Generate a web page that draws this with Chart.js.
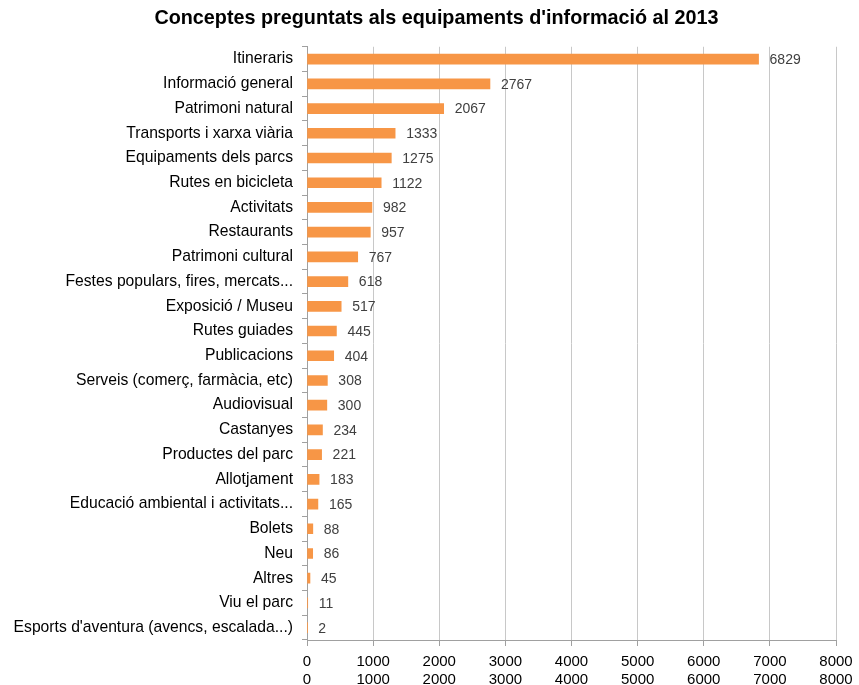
<!DOCTYPE html>
<html>
<head>
<meta charset="utf-8">
<script src="https://cdn.jsdelivr.net/npm/chart.js@4.4.1/dist/chart.umd.min.js"></script>
<style>
    html, body { margin: 0; padding: 0; background: #fff; }
    #wrap { width: 859px; height: 685px; }
</style>
</head>
<body>
<div id="wrap"><canvas id="chart"></canvas></div>
<script>
const titleText = 'Conceptes preguntats als equipaments d\'informació al 2013';

const categories = [
    'Itineraris',
    'Informació general',
    'Patrimoni natural',
    'Transports i xarxa viària',
    'Equipaments dels parcs',
    'Rutes en bicicleta',
    'Activitats',
    'Restaurants',
    'Patrimoni cultural',
    'Festes populars, fires, mercats...',
    'Exposició / Museu',
    'Rutes guiades',
    'Publicacions',
    'Serveis (comerç, farmàcia, etc)',
    'Audiovisual',
    'Castanyes',
    'Productes del parc',
    'Allotjament',
    'Educació ambiental i activitats...',
    'Bolets',
    'Neu',
    'Altres',
    'Viu el parc',
    'Esports d\'aventura (avencs, escalada...)'
];

const consultes = [6829, 2767, 2067, 1333, 1275, 1122, 982, 957, 767, 618, 517, 445,
    404, 308, 300, 234, 221, 183, 165, 88, 86, 45, 11, 2];

const xTicks = [0, 1000, 2000, 3000, 4000, 5000, 6000, 7000, 8000];

const fontFamily = '"Liberation Sans", Arial, sans-serif';

// numbers to the right of each bar
const valueLabels = {
    id: 'valueLabels',
    afterDatasetsDraw(chart) {
        const ctx = chart.ctx;
        const meta = chart.getDatasetMeta(0);
        ctx.save();
        ctx.font = '14px ' + fontFamily;
        ctx.fillStyle = '#404040';
        ctx.textAlign = 'left';
        ctx.textBaseline = 'middle';
        meta.data.forEach((bar, i) => {
            ctx.fillText(String(consultes[i]), bar.x + 11, bar.y + 1);
        });
        ctx.restore();
    }
};

// the title sits a bit right of the canvas centre in the original
const titleShift = {
    id: 'titleShift',
    afterLayout(chart) {
        if (chart.titleBlock) {
            chart.titleBlock.left += 37;
        }
    }
};

const ctx = document.getElementById('chart').getContext('2d');
new Chart(ctx, {
    type: 'bar',
    data: {
        labels: categories,
        datasets: [{
            data: consultes,
            backgroundColor: '#F79646',
            barThickness: 10
        }]
    },
    options: {
        indexAxis: 'y',
        responsive: true,
        maintainAspectRatio: false,
        animation: false,
        layout: { padding: { top: 4, right: 23, left: 0, bottom: 0 } },
        plugins: {
            legend: { display: false },
            tooltip: { enabled: false },
            title: {
                display: true,
                text: titleText,
                color: '#000',
                font: { family: fontFamily, size: 19.8, weight: 'bold' },
                padding: { top: 3, bottom: 16 }
            }
        },
        scales: {
            x: {
                min: 0,
                max: 8000,
                afterFit: (scale) => { scale.height = 45; },
                afterBuildTicks: (scale) => {
                    scale.ticks = xTicks.map(v => ({ value: v }));
                },
                ticks: {
                    color: '#000',
                    font: { family: fontFamily, size: 15, lineHeight: 1.25 },
                    padding: 6,
                    maxRotation: 0,
                    callback: (v) => [String(v), String(v)]
                },
                grid: { color: '#c8c8c8', tickLength: 6, tickColor: '#a0a0a0' },
                border: { color: '#a0a0a0' }
            },
            y: {
                afterFit: (scale) => { scale.width = 307; },
                ticks: {
                    color: '#000',
                    font: { family: fontFamily, size: 15.7 },
                    padding: 9,
                    autoSkip: false
                },
                grid: { offset: true, drawOnChartArea: false, tickLength: 5, color: '#a0a0a0' },
                border: { color: '#a0a0a0' }
            }
        }
    },
    plugins: [valueLabels, titleShift]
});
</script>
</body>
</html>
